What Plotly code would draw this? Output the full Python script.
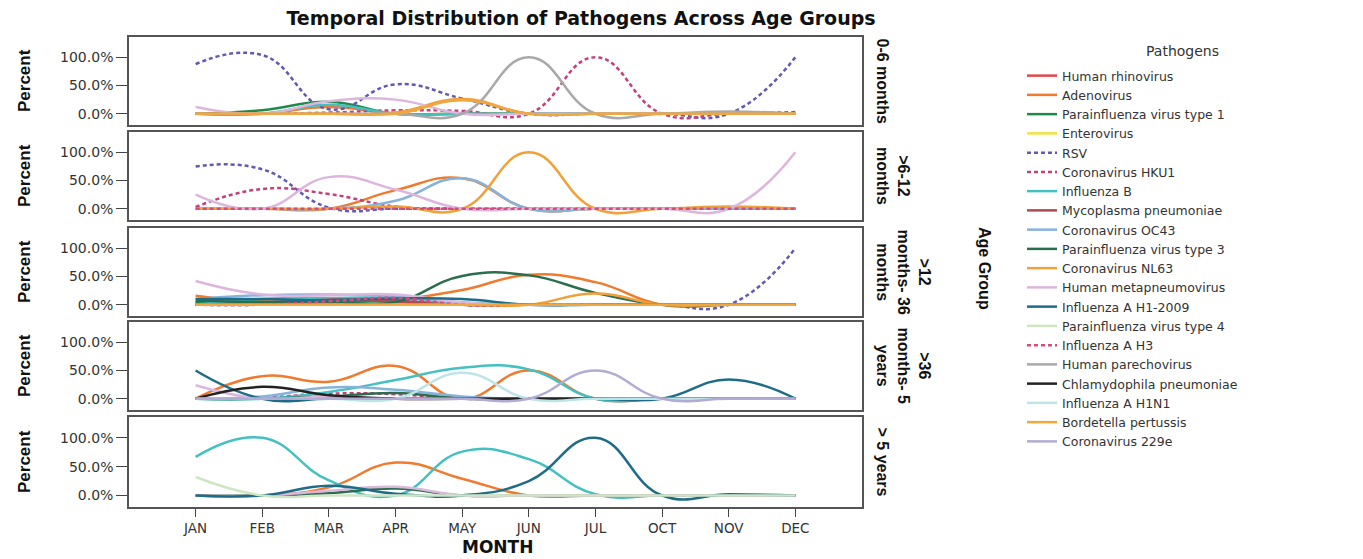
import plotly.graph_objects as go

MONTHS = ["JAN", "FEB", "MAR", "APR", "MAY", "JUN", "JUL", "OCT", "NOV", "DEC"]

PATHOGENS = [
    "Human rhinovirus", "Adenovirus", "Parainfluenza virus type 1", "Enterovirus",
    "RSV", "Coronavirus HKU1", "Influenza B", "Mycoplasma pneumoniae",
    "Coronavirus OC43", "Parainfluenza virus type 3", "Coronavirus NL63",
    "Human metapneumovirus", "Influenza A H1-2009", "Parainfluenza virus type 4",
    "Influenza A H3", "Human parechovirus", "Chlamydophila pneumoniae",
    "Influenza A H1N1", "Bordetella pertussis", "Coronavirus 229e",
]

AGE_GROUPS = ["0-6 months", ">6-12<br>months", ">12<br>months- 36<br>months",
              ">36<br>months- 5<br>years", "> 5 years"]

# percent of cases per month, per age group
AGE_0_6 = {
    "Adenovirus":                 [0, 0, 12, 0, 0, 0, 0, 0, 0, 0],
    "Parainfluenza virus type 1": [0, 6, 21, 0, 0, 0, 0, 0, 0, 0],
    "RSV":                        [88, 104, 8, 52, 27, 0, 0, 0, 0, 100],
    "Coronavirus HKU1":           [0, 0, 2, 6, 5, 0, 100, 0, 0, 3],
    "Influenza B":                [0, 0, 16, 0, 0, 0, 0, 0, 0, 0],
    "Coronavirus NL63":           [0, 0, 0, 2, 26, 0, 0, 0, 0, 0],
    "Human metapneumovirus":      [12, 0, 22, 25, 0, 0, 0, 0, 0, 0],
    "Human parechovirus":         [0, 0, 0, 0, 0, 100, 0, 0, 4, 0],
    "Bordetella pertussis":       [0, 0, 0, 0, 24, 0, 0, 0, 0, 0],
}

AGE_6_12 = {
    "Adenovirus":            [0, 0, 0, 33, 54, 0, 0, 0, 0, 0],
    "RSV":                   [75, 70, 2, 0, 0, 0, 0, 0, 0, 0],
    "Coronavirus HKU1":      [3, 35, 26, 4, 0, 0, 0, 0, 0, 0],
    "Coronavirus OC43":      [0, 0, 0, 14, 54, 0, 0, 0, 0, 0],
    "Coronavirus NL63":      [0, 0, 0, 4, 0, 100, 0, 0, 4, 0],
    "Human metapneumovirus": [25, 0, 56, 34, 0, 0, 0, 0, 0, 100],
    "Influenza A H3":        [0, 0, 0, 0, 0, 0, 0, 0, 0, 0],
}

AGE_12_36 = {
    "Human rhinovirus":           [3, 4, 8, 6, 0, 0, 0, 0, 0, 0],
    "Adenovirus":                 [16, 6, 8, 10, 26, 53, 40, 0, 0, 0],
    "Parainfluenza virus type 1": [5, 3, 4, 6, 0, 0, 0, 0, 0, 0],
    "Enterovirus":                [0, 0, 0, 0, 0, 0, 0, 0, 0, 0],
    "RSV":                        [0, 0, 4, 8, 0, 0, 0, 0, 0, 100],
    "Coronavirus HKU1":           [0, 3, 10, 9, 0, 0, 0, 0, 0, 0],
    "Influenza B":                [0, 10, 12, 12, 4, 0, 0, 0, 0, 0],
    "Mycoplasma pneumoniae":      [0, 3, 9, 5, 0, 0, 0, 0, 0, 0],
    "Coronavirus OC43":           [10, 17, 18, 15, 2, 0, 0, 0, 0, 0],
    "Parainfluenza virus type 3": [7, 5, 5, 5, 51, 52, 21, 0, 0, 0],
    "Coronavirus NL63":           [0, 0, 0, 0, 0, 0, 20, 0, 0, 0],
    "Human metapneumovirus":      [42, 18, 17, 18, 4, 0, 0, 0, 0, 0],
    "Influenza A H1-2009":        [10, 10, 8, 11, 10, 0, 0, 0, 0, 0],
    "Influenza A H3":             [0, 0, 6, 12, 0, 0, 0, 0, 0, 0],
    "Bordetella pertussis":       [0, 0, 0, 0, 0, 0, 0, 0, 0, 0],
}

AGE_36_60 = {
    "Adenovirus":                 [0, 40, 30, 58, 0, 50, 0, 0, 0, 0],
    "Coronavirus HKU1":           [0, 2, 9, 8, 0, 0, 0, 0, 0, 0],
    "Influenza B":                [0, 0, 12, 33, 55, 52, 0, 0, 0, 0],
    "Coronavirus OC43":           [0, 4, 20, 16, 4, 0, 0, 0, 0, 0],
    "Parainfluenza virus type 3": [0, 0, 4, 10, 0, 0, 0, 0, 0, 0],
    "Human metapneumovirus":      [24, 0, 4, 0, 0, 0, 0, 0, 0, 0],
    "Influenza A H1-2009":        [50, 0, 0, 0, 0, 0, 0, 0, 34, 0],
    "Chlamydophila pneumoniae":   [0, 21, 6, 0, 0, 0, 0, 0, 0, 0],
    "Influenza A H1N1":           [0, 0, 0, 0, 46, 0, 0, 0, 0, 0],
    "Coronavirus 229e":           [0, 0, 0, 0, 0, 0, 50, 0, 0, 0],
}

AGE_OVER_5Y = {
    "Adenovirus":                 [0, 0, 14, 57, 29, 0, 0, 0, 0, 0],
    "Influenza B":                [67, 100, 26, 0, 76, 63, 2, 0, 0, 0],
    "Parainfluenza virus type 3": [0, 0, 4, 12, 0, 0, 0, 0, 0, 0],
    "Human metapneumovirus":      [0, 0, 8, 15, 0, 0, 0, 0, 0, 0],
    "Influenza A H1-2009":        [0, 0, 17, 3, 0, 25, 100, 0, 2, 0],
    "Parainfluenza virus type 4": [32, 0, 0, 0, 0, 0, 0, 0, 0, 0],
}

PANELS = [AGE_0_6, AGE_6_12, AGE_12_36, AGE_36_60, AGE_OVER_5Y]

# ---- styles ----
COLORS = {
    "Human rhinovirus": "#E0474C", "Adenovirus": "#F07A2E",
    "Parainfluenza virus type 1": "#1F8A4C", "Enterovirus": "#F3E33B",
    "RSV": "#6259B2", "Coronavirus HKU1": "#C2407E", "Influenza B": "#45C0C0",
    "Mycoplasma pneumoniae": "#B04A55", "Coronavirus OC43": "#86B3DC",
    "Parainfluenza virus type 3": "#2A6E4E", "Coronavirus NL63": "#F0A13A",
    "Human metapneumovirus": "#DDB6DD", "Influenza A H1-2009": "#1E6C88",
    "Parainfluenza virus type 4": "#CFE6C3", "Influenza A H3": "#D64D7C",
    "Human parechovirus": "#A9A9A9", "Chlamydophila pneumoniae": "#222222",
    "Influenza A H1N1": "#BDE5E8", "Bordetella pertussis": "#F2A73E",
    "Coronavirus 229e": "#B3ABD3",
}
DASHED = {"RSV", "Coronavirus HKU1", "Influenza A H3"}

W, H = 1363, 559
PLOT_LEFT, PLOT_RIGHT, PLOT_TOP, PLOT_BOTTOM = 129, 862, 37, 507
L, T = PLOT_LEFT, PLOT_TOP
R, B = W - PLOT_RIGHT, H - PLOT_BOTTOM
PW, PH = PLOT_RIGHT - PLOT_LEFT, PLOT_BOTTOM - PLOT_TOP
PANEL_PX = [(37, 125), (132, 220), (228, 316), (322, 410), (417, 507)]
Y_RANGE = [-20, 136]
SANS = "Liberation Sans, Arial, sans-serif"
WIDE = "DejaVu Sans, sans-serif"


def px_x(px):
    return (px - PLOT_LEFT) / PW


def px_y(py):
    return (PLOT_BOTTOM - py) / PH


fig = go.Figure()
xs = list(range(len(MONTHS)))
shown = set()
for name in PATHOGENS:
    for i, panel in enumerate(PANELS):
        if name not in panel:
            continue
        first = name not in shown
        shown.add(name)
        fig.add_trace(go.Scatter(
            x=xs, y=panel[name], mode="lines", name=name,
            line=dict(color=COLORS[name], width=2.5, shape="spline", smoothing=1.3,
                      dash="4px,3px" if name in DASHED else "solid"),
            xaxis="x" if i == 0 else f"x{i+1}",
            yaxis="y" if i == 0 else f"y{i+1}",
            showlegend=first, legendrank=PATHOGENS.index(name) + 1,
            hoverinfo="x+y+name",
        ))

layout = dict(
    width=W, height=H, margin=dict(l=L, r=R, t=T, b=B, pad=0),
    paper_bgcolor="white", plot_bgcolor="white",
    title=dict(text="<b>Temporal Distribution of Pathogens Across Age Groups</b>",
               x=581 / W, xref="container", xanchor="center",
               y=1 - 18 / H, yref="container", yanchor="middle",
               font=dict(family=WIDE, size=19, color="#111")),
    legend=dict(x=px_x(1022), xanchor="left", y=px_y(61), yanchor="top",
                font=dict(family=WIDE, size=12.5, color="#333"),
                bgcolor="rgba(0,0,0,0)", tracegroupgap=0, traceorder="normal"),
    showlegend=True,
    annotations=[],
)

for i, (top, bot) in enumerate(PANEL_PX):
    sfx = "" if i == 0 else str(i + 1)
    last = i == len(PANEL_PX) - 1
    layout["xaxis" + sfx] = dict(
        domain=[0, 1], anchor="y" + sfx, range=[-1, 10],
        tickvals=xs, ticktext=MONTHS, showticklabels=last,
        ticks="outside" if last else "", ticklen=8, tickcolor="#444", tickwidth=1.2,
        showline=True, mirror=True, linecolor="#555", linewidth=1.5,
        showgrid=False, zeroline=False,
        tickfont=dict(family=WIDE, size=13.5, color="#333"),
    )
    layout["yaxis" + sfx] = dict(
        domain=[px_y(bot), px_y(top)], anchor="x" + sfx, range=Y_RANGE,
        tickvals=[0, 50, 100], ticktext=["0.0%", "50.0%", "100.0%"],
        ticks="outside", ticklen=11, tickcolor="#444", tickwidth=1.2,
        showline=True, mirror=True, linecolor="#555", linewidth=1.5,
        showgrid=False, zeroline=False,
        tickfont=dict(family=WIDE, size=14, color="#333"),
    )
    yref = ("y" if i == 0 else f"y{i+1}") + " domain"
    layout["annotations"].append(dict(
        text="<b>Percent</b>", textangle=-90, xref="paper", x=px_x(24),
        yref=yref, y=0.5, showarrow=False, xanchor="center", yanchor="middle",
        font=dict(family=SANS, size=17, color="#111")))
    layout["annotations"].append(dict(
        text="<b>" + AGE_GROUPS[i] + "</b>", textangle=90, xref="paper", x=px_x(872),
        yref=yref, y=0.5, showarrow=False, xanchor="left", yanchor="middle",
        align="center", font=dict(family=SANS, size=16, color="#111")))

layout["annotations"].append(dict(
    text="<b>Age Group</b>", textangle=90, xref="paper", x=px_x(985), yref="paper",
    y=px_y(268), showarrow=False, xanchor="center", yanchor="middle",
    font=dict(family=SANS, size=16, color="#111")))
layout["annotations"].append(dict(
    text="Pathogens", xref="paper", x=px_x(1182), yref="paper", y=px_y(51),
    showarrow=False, xanchor="center", yanchor="middle",
    font=dict(family=WIDE, size=14, color="#333")))
layout["annotations"].append(dict(
    text="<b>MONTH</b>", xref="paper", x=px_x(497), yref="paper", y=px_y(547),
    showarrow=False, xanchor="center", yanchor="middle",
    font=dict(family=WIDE, size=17, color="#111")))

fig.update_layout(**layout)
# remove the browser's default 8px body margin so the figure fills the window
fig.write_html("out.html",
               config={"displayModeBar": False},
               post_script="document.body.style.margin='0';"
                           "document.body.style.overflow='hidden';")
